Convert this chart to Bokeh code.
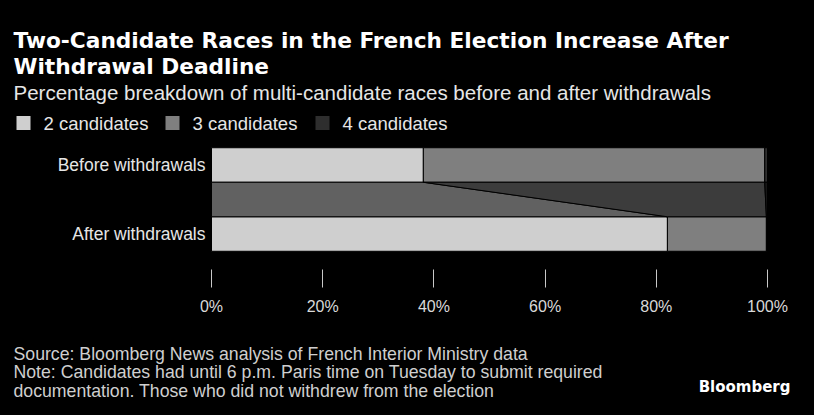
from bokeh.plotting import figure
from bokeh.layouts import column
from bokeh.models import Range1d, FixedTicker, PrintfTickFormatter, ColumnDataSource
from bokeh.core.properties import value
from bokeh.embed import file_html
from bokeh.resources import INLINE

# ---- data ----
categories = ["Before withdrawals", "After withdrawals"]
series_names = ["2 candidates", "3 candidates", "4 candidates"]
two_cand = [38.1, 82.0]
three_cand = [61.4, 17.8]
four_cand = [0.5, 0.2]
x_ticks = [0, 20, 40, 60, 80, 100]

title_lines = ["Two-Candidate Races in the French Election Increase After",
               "Withdrawal Deadline"]
subtitle = "Percentage breakdown of multi-candidate races before and after withdrawals"
source_lines = ["Source: Bloomberg News analysis of French Interior Ministry data",
                "Note: Candidates had until 6 p.m. Paris time on Tuesday to submit required",
                "documentation. Those who did not withdrew from the election"]
logo_text = "Bloomberg"

# ---- style / layout ----
colors = ["#cfcfcf", "#7f7f7f", "#2e2e2e"]
FONT = "Liberation Sans"
BOLD_FONT = "DejaVu Sans"
W = 814
HEAD_H, MAIN_H, FOOT_H = 140, 180, 95
FL, FR = 211, 767          # pixel position of 0% and 100%
FRAME_H = 129
bar_h = 0.5
ypos = [1, 0]
TXT = 13                   # left text margin
px_per_unit = (FR - FL) / 100.0


def blank_fig(h):
    f = figure(width=W, height=h, output_backend="svg", toolbar_location=None,
               x_range=Range1d(0, W), y_range=Range1d(h, 0), min_border=0,
               min_border_left=0, min_border_right=0, min_border_top=0, min_border_bottom=0,
               x_axis_location=None, y_axis_location=None,
               background_fill_color="black", border_fill_color="black",
               outline_line_color=None)
    f.xgrid.visible = False
    f.ygrid.visible = False
    return f


def put_text(f, text, x, y, size, color, bold=False, align="left", font=FONT):
    f.text(x=[x], y=[y], text=[text], text_font=value(font),
           text_font_size=value(size), text_color=color,
           text_font_style="bold" if bold else "normal",
           text_align=align, text_baseline="middle")


# ---- header ----
head = blank_fig(HEAD_H)
put_text(head, title_lines[0], TXT, 40, "21.7px", "white", bold=True, font=BOLD_FONT)
put_text(head, title_lines[1], TXT, 66, "21.7px", "white", bold=True, font=BOLD_FONT)
put_text(head, subtitle, TXT, 92, "20.5px", "#e6e6e6")
legend_x = [16, 165, 315]
for lx, name, c in zip(legend_x, series_names, colors):
    head.rect(x=[lx + 7], y=[122.5], width=14, height=14, fill_color=c, line_color=None)
    put_text(head, name, lx + 27, 122.5, "18.5px", "#e6e6e6")

# ---- main chart ----
p = figure(width=W, height=MAIN_H, output_backend="svg", toolbar_location=None,
           x_range=Range1d(-FL / px_per_unit, (W - FL) / px_per_unit),
           y_range=Range1d(-0.514, 1.355),
           min_border=0, min_border_left=0, min_border_right=0,
           min_border_top=0, min_border_bottom=MAIN_H - FRAME_H,
           y_axis_location=None,
           background_fill_color="black", border_fill_color="black",
           outline_line_color=None)
p.xgrid.visible = False
p.ygrid.visible = False

series = [two_cand, three_cand, four_cand]
left = [0.0, 0.0]
for name, vals, c in zip(series_names, series, colors):
    right = [l + v for l, v in zip(left, vals)]
    src = ColumnDataSource(dict(y=ypos, left=left, right=right))
    p.hbar(y="y", left="left", right="right", height=bar_h, source=src,
           fill_color=c, line_color="black", line_width=1)
    top_y = ypos[0] - bar_h / 2
    bot_y = ypos[1] + bar_h / 2
    p.patch(x=[left[0], right[0], right[1], left[1]],
            y=[top_y, top_y, bot_y, bot_y],
            fill_color=c, fill_alpha=0.47, line_color="black", line_width=1)
    left = right

# category labels
p.text(x=[0, 0], y=ypos, text=categories, x_offset=-6,
       text_font=value(FONT), text_font_size=value("17.5px"), text_color="#e6e6e6",
       text_align="right", text_baseline="middle")

p.xaxis.ticker = FixedTicker(ticks=x_ticks)
p.xaxis.formatter = PrintfTickFormatter(format="%d%%")
p.xaxis.axis_line_color = None
p.xaxis.major_tick_in = 0
p.xaxis.major_tick_out = 18
p.xaxis.major_tick_line_color = "#c8c8c8"
p.xaxis.minor_tick_line_color = None
p.xaxis.major_label_text_color = "#d9d9d9"
p.xaxis.major_label_text_font = FONT
p.xaxis.major_label_text_font_size = "16px"
p.xaxis.major_label_standoff = 10

# ---- footer ----
foot = blank_fig(FOOT_H)
for i, line in enumerate(source_lines):
    put_text(foot, line, TXT, 33 + i * 18.5, "17.7px", "#cfcfcf")
put_text(foot, logo_text, 790, 66, "15px", "white", bold=True, align="right", font=BOLD_FONT)

layout = column(head, p, foot, spacing=0)
html = file_html(layout, INLINE)
html = html.replace("</head>", "<style>html,body{margin:0;padding:0;background:#000;}</style></head>", 1)
open("out.html", "w").write(html)
